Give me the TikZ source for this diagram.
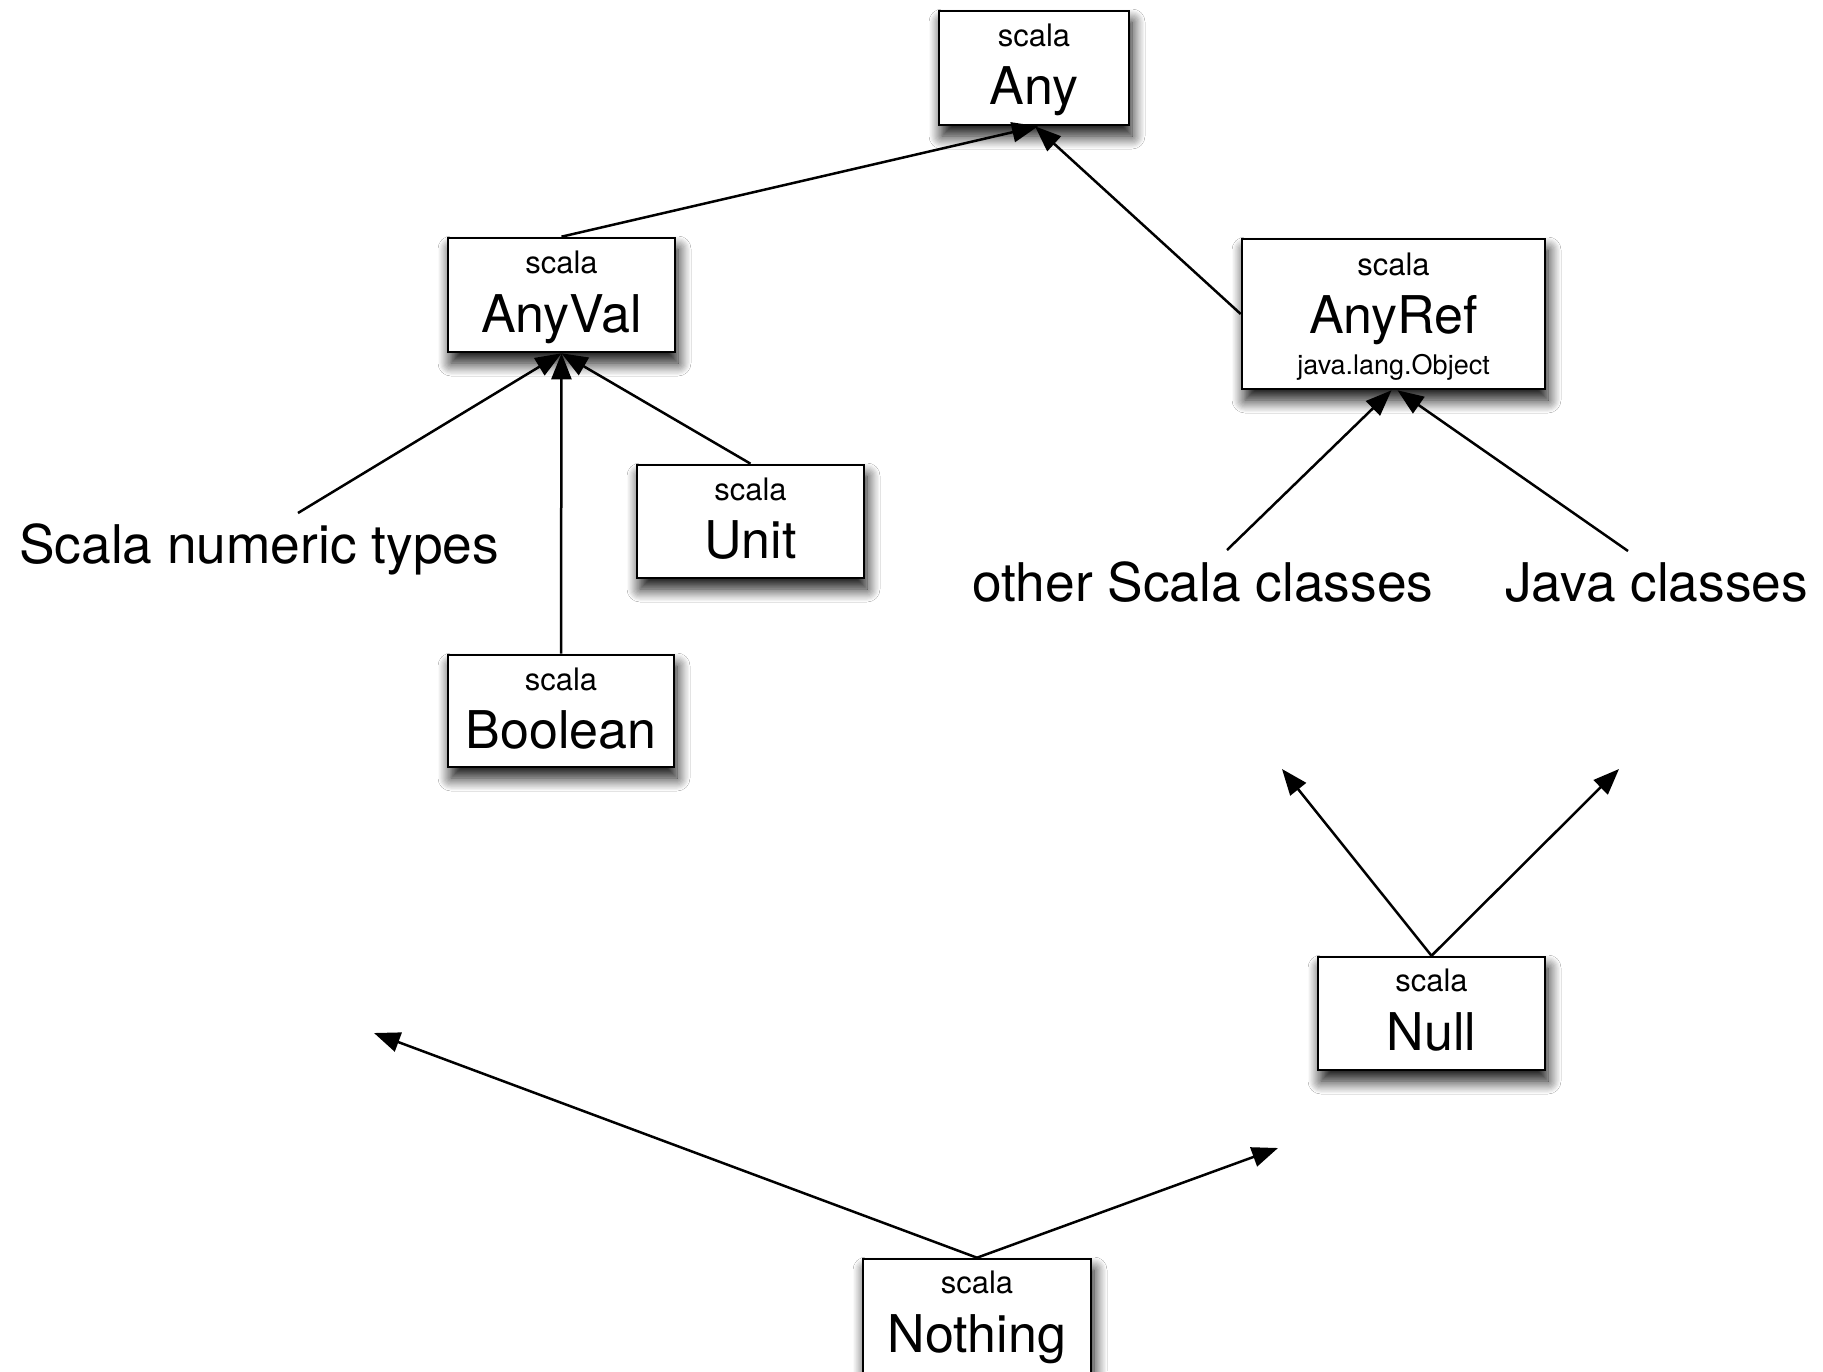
\documentclass[tikz,border=0pt]{standalone}
\usepackage{fontspec}
\setmainfont{TeX Gyre Heros}
\usetikzlibrary{arrows.meta,shadows.blur}
\begin{document}
\begin{tikzpicture}[x=1pt,y=-1pt,
  box/.style={draw, line width=2.6pt, fill=white, inner sep=0pt,
    blur shadow={shadow xshift=3pt, shadow yshift=-11pt, shadow blur radius=13pt, shadow opacity=95, shadow blur steps=12}},
  pkg/.style={anchor=base, inner sep=0pt, font=\fontsize{31}{31}\selectfont},
  cls/.style={anchor=base, inner sep=0pt, font=\fontsize{52}{52}\selectfont},
  jlbl/.style={anchor=base, inner sep=0pt, font=\fontsize{27}{27}\selectfont},
  lbl/.style={anchor=base west, inner sep=0pt, font=\fontsize{53.3}{53.3}\selectfont},
  arr/.style={line width=2.5pt, -{Triangle[length=26pt,width=20pt]}},
]
\useasboundingbox[fill=white] (0,0) rectangle (1823,1371);

% boxes
\node[box, minimum width=190pt, minimum height=114pt] (Any) at (1034,68) {};
\node[pkg] (AnyPkg) at ([yshift=-37pt]Any.north) {scala};
\node[cls] (AnyName) at ([yshift=-95pt]Any.north) {Any};

\node[box, minimum width=227pt, minimum height=114pt] (AnyVal) at (561.5,295) {};
\node[pkg] (AnyValPkg) at ([yshift=-37pt]AnyVal.north) {scala};
\node[cls] (AnyValName) at ([yshift=-96pt]AnyVal.north) {AnyVal};

\node[box, minimum width=303pt, minimum height=150pt] (AnyRef) at (1393.5,314) {};
\node[pkg] (AnyRefPkg) at ([yshift=-38pt]AnyRef.north) {scala};
\node[cls] (AnyRefName) at ([yshift=-96pt]AnyRef.north) {AnyRef};
\node[jlbl] (AnyRefJava) at ([yshift=-137pt]AnyRef.north) {java.lang.Object};

\node[box, minimum width=227pt, minimum height=113pt] (Unit) at (750.5,521.5) {};
\node[pkg] (UnitPkg) at ([yshift=-37pt]Unit.north) {scala};
\node[cls] (UnitName) at ([yshift=-95pt]Unit.north) {Unit};

\node[box, minimum width=226pt, minimum height=112pt] (Boolean) at (561,711) {};
\node[pkg] (BooleanPkg) at ([yshift=-37pt]Boolean.north) {scala};
\node[cls] (BooleanName) at ([yshift=-95pt]Boolean.north) {Boolean};

\node[box, minimum width=227pt, minimum height=113pt] (Null) at (1431.5,1013.5) {};
\node[pkg] (NullPkg) at ([yshift=-36pt]Null.north) {scala};
\node[cls] (NullName) at ([yshift=-95pt]Null.north) {Null};

\node[box, minimum width=228pt, minimum height=114pt] (Nothing) at (977,1316) {};
\node[pkg] (NothingPkg) at ([yshift=-36pt]Nothing.north) {scala};
\node[cls] (NothingName) at ([yshift=-95pt]Nothing.north) {Nothing};

% free labels
\node[lbl] (numeric) at (19,563) {Scala numeric types};
\node[lbl] (otherscala) at (972,601) {other Scala classes};
\node[lbl] (javacl) at (1505,601) {Java classes};

% free connector ends
\coordinate (numL) at (298,513);
\coordinate (oscL) at (1227,550);
\coordinate (javaL) at (1628,551);
\coordinate (nullA) at (1282,769);
\coordinate (nullB) at (1619,769);
\coordinate (nothA) at (374,1033);
\coordinate (nothB) at (1278,1148);

% connectors
\draw[arr] (AnyVal.north) -- ([xshift=4pt]Any.south);
\draw[arr] (AnyRef.west) -- ([xshift=1pt]Any.south);
\draw[arr] (numL) -- (AnyVal.south);
\draw[arr] (Boolean.north) -- (AnyVal.south);
\draw[arr] (Unit.north) -- (AnyVal.south);
\draw[arr] (oscL) -- ([xshift=-2pt]AnyRef.south);
\draw[arr] (javaL) -- ([xshift=4pt]AnyRef.south);
\draw[arr] (Null.north) -- (nullA);
\draw[arr] (Null.north) -- (nullB);
\draw[arr] (Nothing.north) -- (nothA);
\draw[arr] (Nothing.north) -- (nothB);
\end{tikzpicture}
\end{document}
